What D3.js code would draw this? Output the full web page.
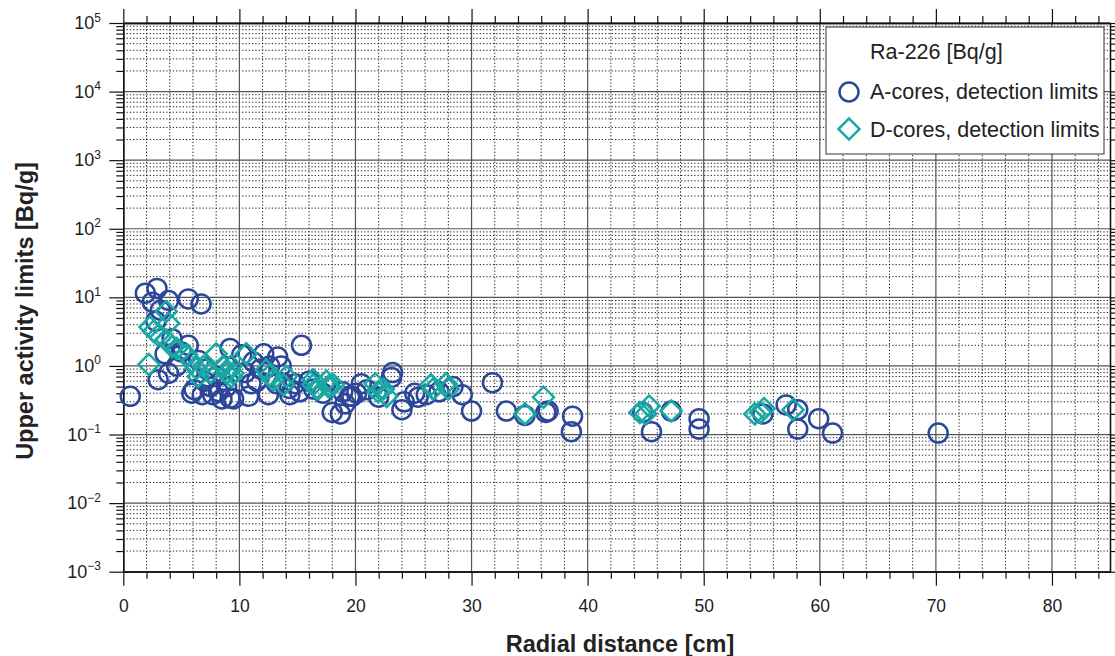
<!DOCTYPE html>
<html>
<head>
<meta charset="utf-8">
<script src="https://cdn.jsdelivr.net/npm/d3@7"></script>
<style>
  html, body { margin: 0; padding: 0; background: #fff; }
  svg { display: block; font-family: "Liberation Sans", Arial, Helvetica, sans-serif; }
</style>
</head>
<body>
<svg id="chart" width="1115" height="656"></svg>
<script>
// Ra-226 upper activity limits versus radial distance
const aCoresX = [0.6, 1.9, 2.9, 2.5, 3.2, 3.9, 5.6, 6.7, 2.8, 3.6, 3.0, 3.9, 4.6, 5.0, 5.6, 4.2,
  5.9, 6.8, 7.7, 8.5, 8.9, 9.5, 9.2, 10.2, 11.2, 12.1, 12.6, 13.3, 13.6, 15.35, 9.2, 10.8,
  11.5, 12.5, 13.2, 14.35, 15.2, 14.3, 13.8, 16.4, 17.2, 18.0, 18.7, 18.9, 19.1, 19.5, 19.7,
  20.1, 20.5, 21.0, 22.0, 23.1, 23.2, 24.0, 24.2, 25.1, 25.4, 26.1, 27.2, 28.4, 29.2, 30.0,
  31.8, 33.0, 34.6, 36.4, 36.6, 38.7, 38.6, 44.75, 45.5, 47.2, 49.6, 49.6, 55.1, 57.1, 58.1,
  58.1, 59.9, 61.1, 70.2, 6.1, 7.0, 7.5, 8.0, 6.5, 7.2, 10.5, 11.0, 11.8, 14.8, 16.0, 8.2];
const aCoresY = [0.36, 11.5, 13.5, 8.5, 6.5, 9.0, 9.5, 8.0, 4.5, 1.5, 0.63, 0.78, 1.0, 1.6, 2.0, 2.5,
  0.40, 0.38, 0.38, 0.33, 0.5, 0.33, 1.8, 1.45, 1.15, 1.5, 1.0, 1.35, 1.0, 2.0, 0.34, 0.36,
  0.6, 0.38, 0.55, 0.38, 0.42, 0.47, 0.56, 0.46, 0.4, 0.21, 0.20, 0.42, 0.28, 0.36, 0.36,
  0.40, 0.55, 0.45, 0.35, 0.68, 0.80, 0.23, 0.30, 0.40, 0.35, 0.38, 0.42, 0.50, 0.38, 0.22,
  0.57, 0.22, 0.19, 0.21, 0.22, 0.185, 0.11, 0.21, 0.11, 0.22, 0.17, 0.12, 0.20, 0.27, 0.23,
  0.12, 0.17, 0.105, 0.105, 0.45, 0.6, 0.5, 0.7, 1.2, 0.9, 0.8, 0.55, 0.9, 0.55, 0.6, 0.42];

const dCoresX = [2.2, 2.3, 2.6, 3.0, 3.7, 3.9, 3.7, 4.2, 4.6, 5.45, 5.9, 6.3, 6.45, 6.9, 7.5, 8.0,
  8.6, 8.9, 9.3, 9.45, 9.3, 10.6, 12.3, 12.6, 12.9, 14.05, 13.8, 16.35, 16.65, 17.5, 17.8,
  16.35, 16.8, 17.65, 18.1, 21.7, 21.95, 22.4, 22.7, 26.5, 26.7, 27.8, 28.0, 34.6, 36.2,
  44.5, 45.0, 45.3, 47.2, 54.4, 54.9, 55.2, 57.7];
const dCoresY = [1.05, 3.7, 3.2, 2.8, 6.2, 4.2, 2.4, 1.9, 1.8, 1.45, 1.15, 0.92, 0.70, 0.98, 0.8, 1.5,
  0.98, 0.78, 1.0, 0.78, 0.70, 1.5, 0.87, 0.74, 0.63, 0.70, 0.53, 0.63, 0.47, 0.60, 0.50,
  0.53, 0.46, 0.5, 0.53, 0.55, 0.42, 0.46, 0.36, 0.53, 0.46, 0.55, 0.46, 0.2, 0.35,
  0.21, 0.20, 0.26, 0.22, 0.2, 0.21, 0.24, 0.23];

const xMajorTicks = [0, 10, 20, 30, 40, 50, 60, 70, 80];
const yDecades = [-3, -2, -1, 0, 1, 2, 3, 4, 5];
const legendTitle = "Ra-226 [Bq/g]";
const seriesNames = ["A-cores, detection limits", "D-cores, detection limits"];

const colA = "#2c4699";
const colD = "#17a9a3";

const svg = d3.select("#chart");
const plotLeft = 123.3, plotRight = 1110, plotTop = 23, plotBottom = 571.7;

const x = d3.scaleLinear().domain([0, 85]).range([plotLeft, plotRight]);
const y = d3.scaleLog().domain([1e-3, 1e5]).range([plotBottom, plotTop]);

const xMinor = d3.range(0, 85, 2).filter(v => v % 10 !== 0);
const yMajor = yDecades.map(e => Math.pow(10, e));
const yMinor = [];
yDecades.slice(0, -1).forEach(e => { for (let k = 2; k <= 9; k++) yMinor.push(k * Math.pow(10, e)); });

// grid: dotted minor lines, solid lines at decades and every 10 cm
const grid = svg.append("g");
grid.selectAll(".hm").data(yMinor).join("line")
  .attr("x1", plotLeft).attr("x2", plotRight).attr("y1", d => y(d)).attr("y2", d => y(d))
  .attr("stroke", "#222").attr("stroke-width", 1).attr("stroke-dasharray", "1.3,2");
grid.selectAll(".vm").data(xMinor).join("line")
  .attr("y1", plotTop).attr("y2", plotBottom).attr("x1", d => x(d)).attr("x2", d => x(d))
  .attr("stroke", "#222").attr("stroke-width", 1).attr("stroke-dasharray", "1.3,2");
grid.selectAll(".hM").data(yMajor).join("line")
  .attr("x1", plotLeft).attr("x2", plotRight).attr("y1", d => y(d)).attr("y2", d => y(d))
  .attr("stroke", "#555").attr("stroke-width", 1.2);
grid.selectAll(".vM").data(xMajorTicks.filter(d => d > 0)).join("line")
  .attr("y1", plotTop).attr("y2", plotBottom).attr("x1", d => x(d)).attr("x2", d => x(d))
  .attr("stroke", "#555").attr("stroke-width", 1.2);

// axes with major and minor ticks on all four sides
function styleAxis(g) {
  g.select(".domain").attr("stroke", "#111").attr("stroke-width", 1.3);
  g.selectAll(".tick line").attr("stroke", "#111").attr("stroke-width", 1.2);
  g.selectAll(".tick text").attr("fill", "#222").style("font-size", "17.5px")
    .style("font-family", "'Liberation Sans', Arial, sans-serif");
}
svg.append("g").attr("transform", `translate(0,${plotBottom})`)
  .call(d3.axisBottom(x).tickValues(xMajorTicks).tickSize(14).tickSizeOuter(0).tickPadding(14).tickFormat(d3.format("d")))
  .call(styleAxis);
svg.append("g").attr("transform", `translate(0,${plotBottom})`)
  .call(d3.axisBottom(x).tickValues(xMinor).tickSize(7).tickSizeOuter(0).tickFormat(""))
  .call(styleAxis);
svg.append("g").attr("transform", `translate(0,${plotTop})`)
  .call(d3.axisTop(x).tickValues(xMajorTicks).tickSize(14).tickSizeOuter(0).tickFormat(""))
  .call(styleAxis);
svg.append("g").attr("transform", `translate(0,${plotTop})`)
  .call(d3.axisTop(x).tickValues(xMinor).tickSize(7).tickSizeOuter(0).tickFormat(""))
  .call(styleAxis);
svg.append("g").attr("transform", `translate(${plotLeft},0)`)
  .call(d3.axisLeft(y).tickValues(yMajor).tickSize(14).tickSizeOuter(0).tickFormat(""))
  .call(styleAxis);
svg.append("g").attr("transform", `translate(${plotLeft},0)`)
  .call(d3.axisLeft(y).tickValues(yMinor).tickSize(7).tickSizeOuter(0).tickFormat(""))
  .call(styleAxis);
svg.append("g").attr("transform", `translate(${plotRight},0)`)
  .call(d3.axisRight(y).tickValues(yMajor).tickSize(14).tickSizeOuter(0).tickFormat(""))
  .call(styleAxis);
svg.append("g").attr("transform", `translate(${plotRight},0)`)
  .call(d3.axisRight(y).tickValues(yMinor).tickSize(7).tickSizeOuter(0).tickFormat(""))
  .call(styleAxis);

// y tick labels as powers of ten
const yl = svg.append("g").attr("fill", "#222");
yDecades.forEach(e => {
  const t = yl.append("text").attr("x", 101).attr("y", y(Math.pow(10, e)) + 6)
    .attr("text-anchor", "end").style("font-size", "18px");
  t.append("tspan").text("10");
  t.append("tspan").attr("dy", -7.5).style("font-size", "12px").text(e < 0 ? "\u2212" + (-e) : String(e));
});

// axis titles
svg.append("text").attr("x", 620).attr("y", 652).attr("text-anchor", "middle")
  .attr("font-weight", "bold").style("font-size", "23.5px").attr("fill", "#222")
  .text("Radial distance [cm]");
svg.append("text").attr("transform", "translate(33,311) rotate(-90)").attr("text-anchor", "middle")
  .attr("font-weight", "bold").style("font-size", "23.5px").attr("fill", "#222")
  .text("Upper activity limits [Bq/g]");

// data marks
const plot = svg.append("g");
plot.selectAll("circle.a").data(d3.range(aCoresX.length)).join("circle")
  .attr("cx", i => x(aCoresX[i])).attr("cy", i => y(aCoresY[i])).attr("r", 9.5)
  .attr("fill", "none").attr("stroke", colA).attr("stroke-width", 2.5);
const diamond = d3.symbol().type(d3.symbolSquare).size(220);
plot.selectAll("path.d").data(d3.range(dCoresX.length)).join("path")
  .attr("d", diamond)
  .attr("transform", i => `translate(${x(dCoresX[i])},${y(dCoresY[i])}) rotate(45)`)
  .attr("fill", "none").attr("stroke", colD).attr("stroke-width", 2.5);

// legend
const lg = svg.append("g");
lg.append("rect").attr("x", 826).attr("y", 27).attr("width", 278).attr("height", 127)
  .attr("fill", "#fff").attr("stroke", "#333").attr("stroke-width", 1);
lg.append("text").attr("x", 870).attr("y", 59).style("font-size", "21.5px").attr("fill", "#222").text(legendTitle);
lg.append("circle").attr("cx", 849).attr("cy", 92).attr("r", 9.5)
  .attr("fill", "none").attr("stroke", colA).attr("stroke-width", 2.5);
lg.append("text").attr("x", 870).attr("y", 99).style("font-size", "21.5px").attr("fill", "#222").text(seriesNames[0]);
lg.append("path").attr("d", diamond).attr("transform", "translate(849,129) rotate(45)")
  .attr("fill", "none").attr("stroke", colD).attr("stroke-width", 2.5);
lg.append("text").attr("x", 870).attr("y", 137).style("font-size", "21.5px").attr("fill", "#222").text(seriesNames[1]);
</script>
</body>
</html>
